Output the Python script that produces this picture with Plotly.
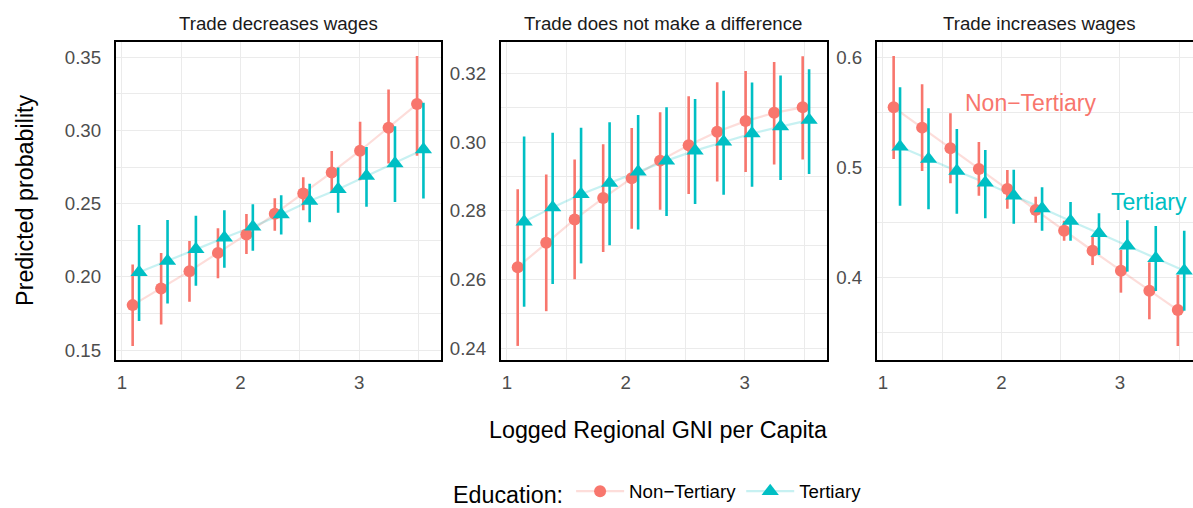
import plotly.graph_objects as go

# ---------------- data ----------------
GNI = [1.118, 1.358, 1.597, 1.837, 2.077, 2.316, 2.556, 2.796, 3.035, 3.275, 3.515]
PANELS = ["Trade decreases wages", "Trade does not make a difference", "Trade increases wages"]
GROUPS = ["Non\u2212Tertiary", "Tertiary"]

dec_non = [0.1807, 0.1921, 0.2039, 0.2164, 0.2290, 0.2431, 0.2570, 0.2714, 0.2862, 0.3019, 0.3181]
dec_non_lo = [0.1527, 0.1675, 0.1830, 0.1990, 0.2156, 0.2315, 0.2456, 0.2575, 0.2661, 0.2775, 0.2827]
dec_non_hi = [0.2085, 0.2164, 0.2246, 0.2333, 0.2429, 0.2538, 0.2680, 0.2860, 0.3060, 0.3281, 0.3509]
dec_ter = [0.2032, 0.2108, 0.2188, 0.2267, 0.2342, 0.2427, 0.2518, 0.2598, 0.2689, 0.2775, 0.2871]
dec_ter_lo = [0.1698, 0.1818, 0.1939, 0.2062, 0.2178, 0.2290, 0.2374, 0.2438, 0.2479, 0.2511, 0.2536]
dec_ter_hi = [0.2354, 0.2388, 0.2417, 0.2456, 0.2497, 0.2557, 0.2636, 0.2748, 0.2887, 0.3030, 0.3190]

same_non = [0.2636, 0.2707, 0.2775, 0.2837, 0.2895, 0.2946, 0.2991, 0.3030, 0.3061, 0.3085, 0.3101]
same_non_lo = [0.2407, 0.2508, 0.2601, 0.2680, 0.2748, 0.2803, 0.2849, 0.2885, 0.2913, 0.2935, 0.2949]
same_non_hi = [0.2863, 0.2906, 0.2949, 0.2994, 0.3041, 0.3087, 0.3133, 0.3174, 0.3207, 0.3233, 0.3250]
same_ter = [0.2768, 0.2810, 0.2848, 0.2881, 0.2914, 0.2946, 0.2975, 0.3001, 0.3025, 0.3045, 0.3064]
same_ter_lo = [0.2521, 0.2587, 0.2647, 0.2700, 0.2746, 0.2785, 0.2820, 0.2847, 0.2870, 0.2890, 0.2907]
same_ter_hi = [0.3016, 0.3027, 0.3042, 0.3058, 0.3079, 0.3101, 0.3125, 0.3149, 0.3173, 0.3194, 0.3212]

inc_non = [0.5549, 0.5364, 0.5176, 0.4988, 0.4806, 0.4615, 0.4427, 0.4245, 0.4064, 0.3882, 0.3706]
inc_non_lo = [0.5079, 0.4970, 0.4858, 0.4745, 0.4627, 0.4500, 0.4336, 0.4115, 0.3864, 0.3622, 0.3379]
inc_non_hi = [0.6015, 0.5758, 0.5494, 0.5234, 0.4979, 0.4736, 0.4518, 0.4375, 0.4255, 0.4140, 0.4025]
inc_ter = [0.5191, 0.5079, 0.4970, 0.4864, 0.4745, 0.4630, 0.4515, 0.4404, 0.4291, 0.4176, 0.4064]
inc_ter_lo = [0.4655, 0.4622, 0.4582, 0.4540, 0.4491, 0.4427, 0.4336, 0.4206, 0.4055, 0.3879, 0.3700]
inc_ter_hi = [0.5731, 0.5540, 0.5352, 0.5161, 0.4982, 0.4822, 0.4688, 0.4585, 0.4522, 0.4470, 0.4427]

# ---------------- style ----------------
W, H = 1193, 508
FONT = "Liberation Sans, Arial, sans-serif"
COLORS = ["#F8766D", "#00BFC4"]
LINE_COLORS = ["rgba(248,118,109,0.25)", "rgba(0,191,196,0.22)"]
SYMBOLS = ["circle", "triangle-up"]
SIZES = [12, 15]
DODGE = 0.027

panel_px = [(115.7, 441.0), (500.7, 826.7), (876.7, 1193.0)]
top_px, bot_px = 41.7, 360.0
x_ranges = [[0.948, 3.69], [0.948, 3.69], [0.948, 3.616]]
y_ranges = [[0.1432, 0.3607], [0.2366, 0.3292], [0.3252, 0.6145]]
y_dticks = [0.05, 0.02, 0.1]
y_fmt = [".2f", ".2f", ".1f"]

series = [
    [(dec_non, dec_non_lo, dec_non_hi), (dec_ter, dec_ter_lo, dec_ter_hi)],
    [(same_non, same_non_lo, same_non_hi), (same_ter, same_ter_lo, same_ter_hi)],
    [(inc_non, inc_non_lo, inc_non_hi), (inc_ter, inc_ter_lo, inc_ter_hi)],
]

fig = go.Figure()

for p in range(3):
    sfx = "" if p == 0 else str(p + 1)
    xa, ya = "x" + sfx, "y" + sfx
    # faint connecting lines first
    for g in range(2):
        xs = [v + (DODGE if g == 1 else -DODGE) for v in GNI]
        fig.add_trace(go.Scatter(x=xs, y=series[p][g][0], xaxis=xa, yaxis=ya, mode="lines",
                                 line=dict(color=LINE_COLORS[g], width=2.2), showlegend=False,
                                 hoverinfo="skip"))
    for g in range(2):
        xs = [v + (DODGE if g == 1 else -DODGE) for v in GNI]
        est, lo, hi = series[p][g]
        fig.add_trace(go.Scatter(
            x=xs, y=est, xaxis=xa, yaxis=ya, mode="markers",
            marker=dict(color=COLORS[g], symbol=SYMBOLS[g], size=SIZES[g], line=dict(width=0)),
            error_y=dict(type="data", symmetric=False,
                         array=[h - e for h, e in zip(hi, est)],
                         arrayminus=[e - l for e, l in zip(est, lo)],
                         color=COLORS[g], thickness=2.6, width=0),
            showlegend=False, name=GROUPS[g]))

# legend entries
for g in range(2):
    fig.add_trace(go.Scatter(x=[None], y=[None], mode="lines+markers", name=GROUPS[g],
                             line=dict(color=LINE_COLORS[g], width=2.2),
                             marker=dict(color=COLORS[g], symbol=SYMBOLS[g], size=SIZES[g]),
                             showlegend=True))

layout = dict(
    width=W, height=H, margin=dict(l=0, r=0, t=0, b=0, autoexpand=False),
    paper_bgcolor="white", plot_bgcolor="white",
    font=dict(family=FONT, size=18.7, color="#4D4D4D"),
    showlegend=True,
    legend=dict(orientation="h", xref="container", yref="container",
                x=451 / W, xanchor="left", y=1 - 493 / H, yanchor="middle",
                title=dict(text="Education:", side="left", font=dict(size=23.3, color="black")),
                font=dict(size=18.7, color="black"), bgcolor="rgba(0,0,0,0)",
                itemwidth=48, tracegroupgap=0),
)

annotations = []
for p in range(3):
    sfx = "" if p == 0 else str(p + 1)
    x0, x1 = panel_px[p]
    grid = dict(showgrid=True, gridcolor="#EBEBEB", gridwidth=1.4, zeroline=False,
                showline=True, linecolor="black", linewidth=1.6, ticks="",
                tickfont=dict(size=18.7, color="#4D4D4D"))
    layout["xaxis" + sfx] = dict(domain=[x0 / W, x1 / W], range=x_ranges[p], anchor="y" + sfx,
                                 tickmode="linear", tick0=0, dtick=1, mirror=True,
                                 ticklabelstandoff=5,
                                 minor=dict(dtick=0.5, tick0=0, showgrid=True, gridcolor="#EBEBEB",
                                            gridwidth=0.7),
                                 **grid)
    layout["yaxis" + sfx] = dict(domain=[1 - bot_px / H, 1 - top_px / H], range=y_ranges[p],
                                 anchor="x" + sfx, tickmode="linear", tick0=0, dtick=y_dticks[p],
                                 tickformat=y_fmt[p], mirror=(p < 2), ticklabelstandoff=9,
                                 minor=dict(dtick=y_dticks[p] / 2, tick0=0, showgrid=True,
                                            gridcolor="#EBEBEB", gridwidth=0.7),
                                 **grid)
    annotations.append(dict(text=PANELS[p], xref="paper", yref="paper",
                            x=(x0 + (x0 + 325.3)) / 2 / W, y=1 - 23 / H, showarrow=False,
                            xanchor="center", yanchor="middle",
                            font=dict(size=18.7, color="#1A1A1A", family=FONT)))

annotations += [
    dict(text="Predicted probability", xref="paper", yref="paper", x=25 / W, y=1 - 200.9 / H,
         textangle=-90, showarrow=False, xanchor="center", yanchor="middle",
         font=dict(size=23.3, color="black", family=FONT)),
    dict(text="Logged Regional GNI per Capita", xref="paper", yref="paper", x=658 / W, y=1 - 430 / H,
         showarrow=False, xanchor="center", yanchor="middle",
         font=dict(size=23.3, color="black", family=FONT)),
    dict(text=GROUPS[0], xref="x3", yref="y3", x=2.249, y=0.5588, showarrow=False,
         xanchor="center", yanchor="middle", font=dict(size=23, color=COLORS[0], family=FONT)),
    dict(text=GROUPS[1], xref="x3", yref="y3", x=3.249, y=0.469, showarrow=False,
         xanchor="center", yanchor="middle", font=dict(size=23, color=COLORS[1], family=FONT)),
]
layout["annotations"] = annotations
fig.update_layout(**layout)

fig.write_html("out.html", config={"displayModeBar": False},
               post_script="document.body.style.margin='0';document.body.style.overflow='hidden';")
